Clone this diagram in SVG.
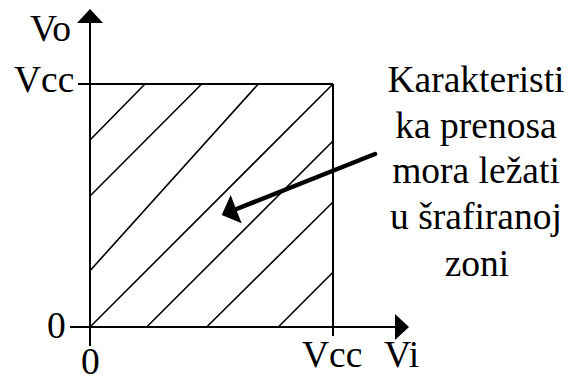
<svg xmlns="http://www.w3.org/2000/svg" width="573" height="378" viewBox="0 0 573 378">
<style>
.t{font-family:'Liberation Serif','DejaVu Serif','Noto Serif',serif;font-size:37.5px;fill:#000}
.ax{stroke:#000;stroke-width:2;fill:none}
.h{stroke:#000;stroke-width:1.6;fill:none}
.lbl{text-anchor:middle}
</style>
<rect width="573" height="378" fill="#fff"/>
<g id="axes">
<line class="ax" x1="90" y1="346" x2="90" y2="20"/>
<polygon points="90,9 77,23 103,23" fill="#000"/>
<line class="ax" x1="70" y1="327" x2="398" y2="327"/>
<polygon points="409,327 395,314 395,340" fill="#000"/>
</g>
<g id="zone">
<line class="ax" x1="78" y1="84" x2="333" y2="84"/>
<line class="ax" x1="333" y1="84" x2="333" y2="336"/>
<line class="h" x1="90" y1="140" x2="145" y2="84"/>
<line class="h" x1="90" y1="196" x2="201.7" y2="84"/>
<line class="h" x1="90" y1="270.7" x2="258.3" y2="84"/>
<line class="h" x1="90" y1="327" x2="333" y2="84"/>
<line class="h" x1="146.7" y1="327" x2="333" y2="141"/>
<line class="h" x1="206.7" y1="327" x2="333" y2="202"/>
<line class="h" x1="278.3" y1="327" x2="333" y2="272.3"/>
</g>
<g id="connectors">
<line x1="375" y1="154" x2="234" y2="210" stroke="#000" stroke-width="4.5" stroke-linecap="round"/>
<polygon points="221.7,215 230.7,195 236,209 241.7,223.3" fill="#000"/>
</g>
<g id="labels">
<text class="t" font-family="Liberation Serif, serif" x="30" y="41">Vo</text>
<text class="t" font-family="Liberation Serif, serif" x="14" y="92">Vcc</text>
<text class="t" font-family="Liberation Serif, serif" x="47" y="338">0</text>
<text class="t" font-family="Liberation Serif, serif" x="81" y="374">0</text>
<text class="t" font-family="Liberation Serif, serif" x="302" y="367">Vcc</text>
<text class="t" font-family="Liberation Serif, serif" x="384" y="367">Vi</text>
</g>
<g id="note">
<text class="t lbl" font-family="Liberation Serif, serif" x="476" y="92">Karakteristi</text>
<text class="t lbl" font-family="Liberation Serif, serif" x="476" y="138">ka prenosa</text>
<text class="t lbl" font-family="Liberation Serif, serif" x="476" y="183">mora ležati</text>
<text class="t lbl" font-family="Liberation Serif, serif" x="476" y="229">u šrafiranoj</text>
<text class="t lbl" font-family="Liberation Serif, serif" x="477" y="276">zoni</text>
</g>
</svg>
